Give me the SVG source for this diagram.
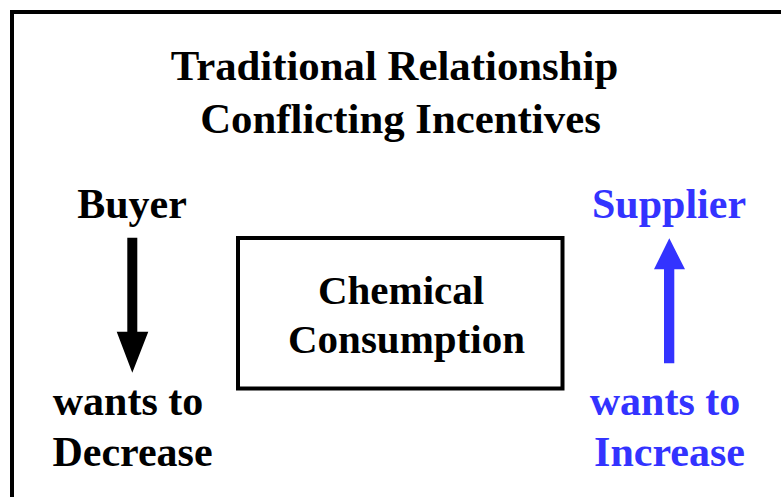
<svg xmlns="http://www.w3.org/2000/svg" width="781" height="497" viewBox="0 0 781 497">
<style>
text{font-family:"Liberation Serif","Times New Roman",serif;font-weight:bold;font-size:42px;text-anchor:middle}
.k{fill:#000}
.b{fill:#3333FF}
.t{font-size:42.8px}
.c{font-size:41px}
</style>
<rect width="781" height="497" fill="#fff"/>
<rect id="frame" x="12" y="12" width="800" height="520" fill="none" stroke="#000" stroke-width="4"/>
<g id="title">
<text class="k t" x="394.5" y="80">Traditional Relationship</text>
<text class="k t" x="400.5" y="133">Conflicting Incentives</text>
</g>
<g id="buyer">
<text class="k" x="132" y="218">Buyer</text>
<text class="k" x="128" y="415">wants to</text>
<text class="k" x="132.5" y="466">Decrease</text>
</g>
<g id="supplier">
<text class="b" x="669" y="218">Supplier</text>
<text class="b" x="665" y="415">wants to</text>
<text class="b" x="669.5" y="466">Increase</text>
</g>
<g id="consumption">
<rect x="238" y="238" width="324.5" height="150.5" fill="#fff" stroke="#000" stroke-width="4"/>
<text class="k c" x="401" y="304">Chemical</text>
<text class="k c" x="406.5" y="353">Consumption</text>
</g>
<g id="connectors">
<polygon points="127.3,237.7 137.3,237.7 137.3,331.7 148.3,331.7 132.3,372.7 116.7,331.7 127.3,331.7" fill="#000"/>
<polygon points="664,363.3 674.3,363.3 674.3,269.3 685,269.3 669.3,238.3 654,269.3 664,269.3" fill="#3333FF"/>
</g>
</svg>
